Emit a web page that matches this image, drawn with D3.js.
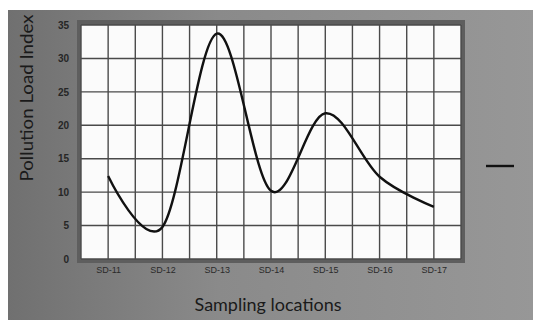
<!DOCTYPE html>
<html>
<head>
<meta charset="utf-8">
<script src="https://cdn.jsdelivr.net/npm/d3@7"></script>
<style>
  body { margin: 0; background: #fff; }
  svg { display: block; font-family: Lato, "Open Sans", sans-serif; }
</style>
</head>
<body>
<div id="chart"></div>
<script>
const locations = ["SD-11", "SD-12", "SD-13", "SD-14", "SD-15", "SD-16", "SD-17"];
const pli = [12.4, 4.8, 33.7, 10.2, 21.8, 12.3, 7.8];
const yTicks = [0, 5, 10, 15, 20, 25, 30, 35];

const width = 533, height = 320;
const plot = { left: 81, right: 461, top: 25, bottom: 259 };

const svg = d3.select("#chart").append("svg")
  .attr("width", width)
  .attr("height", height);

// photo-like grey backdrop
const defs = svg.append("defs");
const grad = defs.append("linearGradient").attr("id", "bg")
  .attr("x1", "0%").attr("y1", "0%").attr("x2", "100%").attr("y2", "0%");
grad.append("stop").attr("offset", "0%").attr("stop-color", "#707070");
grad.append("stop").attr("offset", "40%").attr("stop-color", "#8a8a8a");
grad.append("stop").attr("offset", "100%").attr("stop-color", "#979797");

svg.append("rect")
  .attr("x", 8).attr("y", 10)
  .attr("width", width - 8).attr("height", height - 10)
  .attr("fill", "url(#bg)");

// darker frame round the plot
svg.append("rect")
  .attr("x", plot.left - 4).attr("y", plot.top - 5)
  .attr("width", plot.right - plot.left + 8).attr("height", plot.bottom - plot.top + 9)
  .attr("fill", "#5e5e5e");

svg.append("rect")
  .attr("x", plot.left).attr("y", plot.top)
  .attr("width", plot.right - plot.left).attr("height", plot.bottom - plot.top)
  .attr("fill", "#fbfbfb");

const x = d3.scalePoint()
  .domain(locations)
  .range([plot.left, plot.right])
  .padding(0.5);

const y = d3.scaleLinear()
  .domain([0, 35])
  .range([plot.bottom, plot.top]);

const step = x.step();
const vLines = [];
locations.forEach((d) => {
  vLines.push(x(d) - step / 2);
  vLines.push(x(d));
});
vLines.push(x(locations[locations.length - 1]) + step / 2);

const grid = svg.append("g").attr("stroke", "#4a4a4a").attr("stroke-width", 1.4);
grid.selectAll("line.v")
  .data(vLines)
  .enter()
  .append("line")
  .attr("class", "v")
  .attr("x1", (d) => d).attr("x2", (d) => d)
  .attr("y1", plot.top).attr("y2", plot.bottom);
grid.selectAll("line.h")
  .data(yTicks)
  .enter()
  .append("line")
  .attr("class", "h")
  .attr("x1", plot.left).attr("x2", plot.right)
  .attr("y1", (d) => y(d)).attr("y2", (d) => y(d));

// y axis labels
svg.append("g")
  .attr("transform", `translate(${plot.left - 12},0)`)
  .call(d3.axisLeft(y).tickValues(yTicks).tickSize(0).tickPadding(0))
  .call((g) => g.select(".domain").remove())
  .call((g) => g.selectAll("text").attr("fill", "#262626").attr("font-size", 10).attr("font-weight", "bold"));

// x axis labels
svg.append("g")
  .attr("transform", `translate(0,${plot.bottom + 6})`)
  .call(d3.axisBottom(x).tickSize(0).tickPadding(2))
  .call((g) => g.select(".domain").remove())
  .call((g) => g.selectAll("text").attr("fill", "#2a2a2a").attr("font-size", 9));

const line = d3.line()
  .x((d, i) => x(locations[i]))
  .y((d) => y(d))
  .curve(d3.curveCardinal.tension(0));

svg.append("path")
  .datum(pli)
  .attr("d", line)
  .attr("fill", "none")
  .attr("stroke", "#111")
  .attr("stroke-width", 2.4);

// axis titles
svg.append("text")
  .attr("x", 268)
  .attr("y", 311)
  .attr("text-anchor", "middle")
  .attr("font-size", 17)
  .attr("textLength", 147)
  .attr("lengthAdjust", "spacingAndGlyphs")
  .attr("fill", "#1a1a1a")
  .text("Sampling locations");

svg.append("text")
  .attr("transform", "translate(33,98) rotate(-90)")
  .attr("text-anchor", "middle")
  .attr("font-size", 17)
  .attr("textLength", 167)
  .attr("lengthAdjust", "spacingAndGlyphs")
  .attr("fill", "#1a1a1a")
  .text("Pollution Load Index");

// legend stroke at the right
svg.append("line")
  .attr("x1", 486).attr("x2", 514)
  .attr("y1", 166).attr("y2", 166)
  .attr("stroke", "#111")
  .attr("stroke-width", 2.4);
</script>
</body>
</html>
